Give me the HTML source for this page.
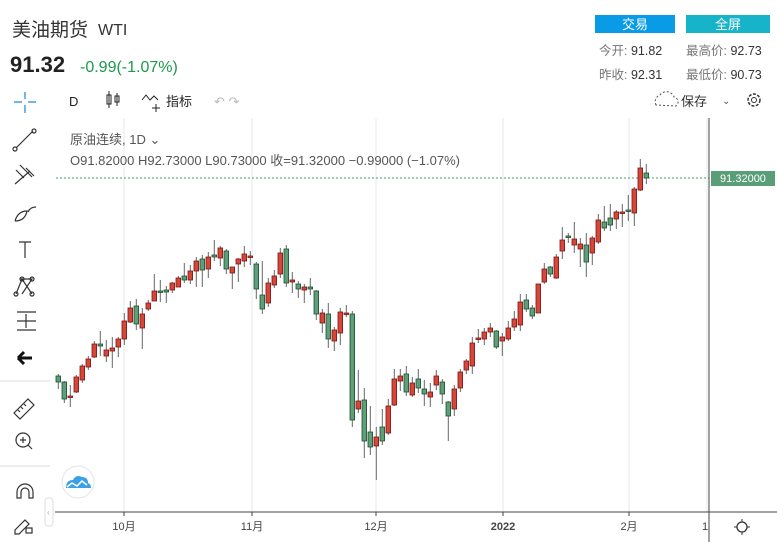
<!DOCTYPE html>
<html><head><meta charset="utf-8"><style>
body{margin:0;width:777px;height:542px;overflow:hidden;background:#fff;font-family:"Liberation Sans","Noto Sans CJK SC",sans-serif;}
svg{position:absolute;left:0;top:0}
</style></head><body>
<svg id="s" width="777" height="542" xmlns="http://www.w3.org/2000/svg" font-family="Liberation Sans, Noto Sans CJK SC, sans-serif">
<text x="12" y="36" font-size="19" fill="#333">美油期货</text>
<text x="98" y="35" font-size="16" fill="#333">WTI</text>
<text x="10" y="72" font-size="22" font-weight="bold" fill="#222">91.32</text>
<text x="80" y="72" font-size="16" fill="#1a9a4a">-0.99(-1.07%)</text>
<rect x="595" y="15" width="80" height="18" fill="#0a9be6"/>
<text x="635" y="29" font-size="13" fill="#fff" text-anchor="middle">交易</text>
<rect x="686" y="15" width="84" height="18" fill="#16b3c9"/>
<text x="728" y="29" font-size="13" fill="#fff" text-anchor="middle">全屏</text>
<text x="599" y="55" font-size="12.5" fill="#777">今开: <tspan fill="#333">91.82</tspan></text>
<text x="686" y="55" font-size="12.5" fill="#777">最高价: <tspan fill="#333">92.73</tspan></text>
<text x="599" y="79" font-size="12.5" fill="#777">昨收: <tspan fill="#333">92.31</tspan></text>
<text x="686" y="79" font-size="12.5" fill="#777">最低价: <tspan fill="#333">90.73</tspan></text>
<g stroke="#2a8de0" stroke-width="1.3"><line x1="14" y1="102" x2="22" y2="102"/><line x1="28" y1="102" x2="36" y2="102"/><line x1="25" y1="92" x2="25" y2="99"/><line x1="25" y1="105" x2="25" y2="113"/></g>
<text x="69" y="106" font-size="13" fill="#222">D</text>
<g stroke="#222" fill="none"><line x1="109" y1="91" x2="109" y2="108"/><rect x="107" y="95" width="4" height="9"/><line x1="117" y1="93" x2="117" y2="106"/><rect x="115" y="96" width="4" height="6"/></g>
<path d="M142 100 l4-5 4 5 4-4 4 4" stroke="#222" fill="none"/><path d="M156 104v8M152 108h8" stroke="#222"/>
<text x="166" y="106" font-size="13" fill="#222">指标</text>
<text x="214" y="106" font-size="13" fill="#bbb">↶ ↷</text>
<path d="M656 105 a7 7 0 0 1 4-10 a8 8 0 0 1 14 2 a5 5 0 0 1 2 9z" stroke="#555" stroke-dasharray="2 2" fill="none"/>
<text x="681" y="106" font-size="13" fill="#333">保存</text>
<text x="722" y="104" font-size="10" fill="#555">⌄</text>
<circle cx="754" cy="100" r="6" stroke="#333" fill="none" stroke-width="1.5" stroke-dasharray="3 1.5"/><circle cx="754" cy="100" r="2.5" stroke="#333" fill="none"/>
<g stroke="#333" fill="none" stroke-width="1.2">
<line x1="16" y1="148" x2="33" y2="131"/><circle cx="15" cy="149" r="2"/><circle cx="34" cy="131" r="2"/>
<path d="M16 170 l8 8 M20 165 l12 12 M26 168 l8 8 M15 184 l15-13"/>
<path d="M15 221 q3-10 12-10 q-2 10-12 10 M28 212 q2-5 8-5"/>
<path d="M19 242h12M25 242v16"/>
<path d="M16 294 l6-15 10 15 M20 279 h12 l-10 15"/><circle cx="16" cy="294" r="2"/><circle cx="22" cy="279" r="2"/><circle cx="32" cy="279" r="2"/><circle cx="32" cy="294" r="2"/>
<path d="M17 312h19M17 321h19M17 330h19M26 314v14"/>
<path d="M14 413 l14-14 6 6 -14 14z M18 410l2 2M21 407l2 2M24 404l2 2"/>
<circle cx="23" cy="440" r="7"/><path d="M28 445l4 4M20 440h6M23 437v6"/>
<path d="M17 498 v-6 a8 8 0 0 1 16 0 v6 h-4 v-6 a4 4 0 0 0 -8 0 v6z"/>
<path d="M15 530 l10-10 4 4 -10 10 -4 0z"/><rect x="26" y="528" width="6" height="5"/>
</g>
<path d="M18 358 h14 M18 358 l6-6 M18 358 l6 6" stroke="#111" stroke-width="3" fill="none"/>
<line x1="0" y1="381" x2="50" y2="381" stroke="#ddd"/><line x1="0" y1="466" x2="50" y2="466" stroke="#ddd"/>
<rect x="45" y="498" width="8" height="28" rx="3" fill="#fff" stroke="#ddd"/><text x="47" y="515" font-size="8" fill="#aaa">‹</text>
<g stroke="#e3e8ee"><line x1="124" y1="118" x2="124" y2="512"/><line x1="252" y1="118" x2="252" y2="512"/><line x1="376" y1="118" x2="376" y2="512"/><line x1="503" y1="118" x2="503" y2="512"/><line x1="629" y1="118" x2="629" y2="512"/><line x1="707" y1="118" x2="707" y2="512"/></g>
<text x="70" y="144" font-size="13" fill="#555">原油连续, 1D ⌄</text>
<text x="70" y="165" font-size="13" fill="#555">O91.82000  H92.73000  L90.73000  收=91.32000  −0.99000 (−1.07%)</text>
<line x1="56" y1="178" x2="709" y2="178" stroke="#4c9e6c" stroke-dasharray="2 2"/>
<g id="c"></g>
<line x1="709" y1="118" x2="709" y2="542" stroke="#444"/>
<line x1="55" y1="512" x2="777" y2="512" stroke="#444"/>
<g stroke="#444"><line x1="124" y1="512" x2="124" y2="516"/><line x1="252" y1="512" x2="252" y2="516"/><line x1="376" y1="512" x2="376" y2="516"/><line x1="503" y1="512" x2="503" y2="516"/><line x1="629" y1="512" x2="629" y2="516"/></g>
<rect x="711" y="171" width="64" height="15" fill="#5a9e78"/>
<text x="743" y="182" font-size="11" fill="#fff" text-anchor="middle">91.32000</text>
<g font-size="11" fill="#444" text-anchor="middle"><text x="124" y="530">10月</text><text x="252" y="530">11月</text><text x="376" y="530">12月</text><text x="503" y="530" font-weight="bold">2022</text><text x="629" y="530">2月</text><text x="705" y="530">1</text></g>
<circle cx="742" cy="527" r="5" stroke="#333" fill="none" stroke-width="1.3"/><path d="M742 519v3M742 532v3M734 527h3M747 527h3" stroke="#333"/>
<circle cx="78" cy="482" r="16" fill="#fff" stroke="#e4e4e4"/><path d="M66 488 q0-8 7-8 q3-6 9-3 q6 0 6 6 q3 1 3 5z" fill="#3ca0e6"/><path d="M67 487 l5-4 5 3 5-5 5 4" stroke="#fff" fill="none" stroke-width="1.5"/>
</svg>
<script>
var d=[[376,382,374,389],[382,399,381,403],[396,396,385,407],[392,377,375,393],[380,366,364,383],[367,359,356,370],[357,344,341,358],[344,346,331,356],[356,350,340,362],[351,348,337,368],[347,339,337,357],[339,321,313,345],[322,308,301,323],[306,324,299,330],[328,314,308,349],[309,303,300,311],[301,291,274,301],[291,291,280,302],[290,292,286,303],[290,283,282,293],[287,278,276,287],[276,280,263,283],[280,271,265,284],[271,261,257,287],[259,270,255,287],[269,257,252,278],[255,257,240,261],[258,248,246,266],[251,269,249,274],[273,267,267,289],[264,259,258,282],[261,254,246,267],[256,256,251,265],[264,289,262,299],[295,309,261,314],[303,283,278,307],[285,276,270,288],[274,253,248,278],[249,283,245,287],[282,280,272,293],[284,289,281,298],[290,287,284,303],[287,289,278,295],[291,314,290,320],[323,313,309,333],[314,339,303,348],[341,330,327,351],[333,312,308,345],[313,313,305,317],[314,420,311,427],[409,401,370,413],[400,441,388,458],[432,447,406,455],[446,437,427,480],[427,441,409,445],[433,406,399,435],[405,379,369,406],[381,376,369,391],[374,392,366,396],[395,383,377,397],[379,388,369,393],[389,394,380,406],[397,392,383,407],[385,376,370,390],[382,394,379,404],[402,416,401,441],[409,389,385,416],[388,372,369,392],[370,361,359,374],[366,343,337,374],[338,338,329,343],[339,332,328,345],[332,328,323,337],[331,347,330,349],[341,337,333,356],[339,328,321,341],[327,319,311,331],[325,302,294,331],[300,309,294,312],[308,316,305,319],[313,284,284,313],[282,269,263,284],[267,274,266,277],[278,257,254,279],[251,240,227,259],[236,236,233,243],[245,239,222,253],[249,244,238,267],[245,262,233,277],[253,238,236,265],[242,220,214,244],[222,228,206,231],[218,225,204,231],[219,212,210,229],[212,212,204,227],[210,210,195,221],[213,189,187,226],[190,168,159,191],[173,178,164,184]];
var h='';d.forEach(function(c,i){var x=58.3+i*6,o=c[0],cl=c[1],up=cl<o||(o==cl&&i%2==0);var top=Math.min(o,cl),bh=Math.max(Math.abs(o-cl),1.5);
var fill=up?'#d6473a':'#5f9f77',st=up?'#7a1616':'#1d4f33';
h+='<line x1="'+x+'" y1="'+c[2]+'" x2="'+x+'" y2="'+c[3]+'" stroke="#666"/>';
h+='<rect x="'+(x-2.3)+'" y="'+top+'" width="4.6" height="'+bh+'" fill="'+fill+'" stroke="'+st+'" stroke-width="0.8"/>';});
document.getElementById('c').innerHTML=h;
</script>
</body></html>
